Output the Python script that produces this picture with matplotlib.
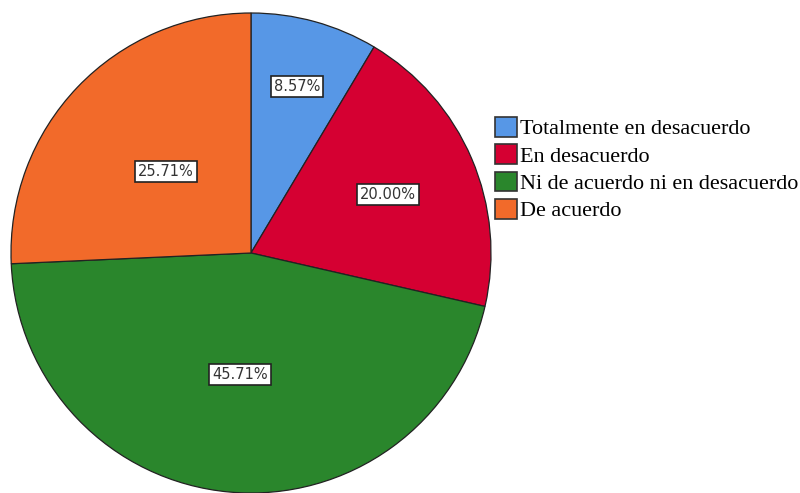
import numpy as np
import matplotlib
matplotlib.use("Agg")
import matplotlib.pyplot as plt

categorias = ["Totalmente en desacuerdo", "En desacuerdo",
  "Ni de acuerdo ni en desacuerdo", "De acuerdo"]
porcentajes = [8.57, 20.00, 45.71, 25.71]
colores = ["#5797E6", "#D50032", "#2A862C", "#F26A2A"]
# how far out each label box sits (fraction of radius)
dist_etiquetas = [0.72, 0.62, 0.51, 0.49]

fig = plt.figure(figsize=(8, 4.93), dpi=100)
# pie axes: center ~ (251, 253) px, radius ~240 px
ax = fig.add_axes([11/800, 0.0, 480/800, 480/493])

wedges, texts, autotexts = ax.pie(porcentajes, colors=colores, startangle=90,
  counterclock=False, autopct="%1.2f%%", radius=1.0,
  wedgeprops=dict(edgecolor="#222222", linewidth=0.9))

for w, t, d in zip(wedges, autotexts, dist_etiquetas):
  ang = np.deg2rad((w.theta1 + w.theta2) / 2)
  t.set_position((d*np.cos(ang), d*np.sin(ang)))
  t.set_fontsize(10.5)
  t.set_color("#333333")
  t.set_family("DejaVu Sans")
  t.set_bbox(dict(boxstyle="square,pad=0.2", facecolor="white",
    edgecolor="#222222", linewidth=1.2))

ax.set_xlim(-1.0, 1.0)
ax.set_ylim(-1.0, 1.0)
ax.set_aspect("equal")
ax.axis("off")

leg = fig.legend(wedges, categorias, loc="upper left",
  bbox_to_anchor=(495/800, 1 - 117/493), frameon=False,
  prop=dict(family="Liberation Serif", size=15.9),
  handlelength=1.0, handleheight=1.0, handletextpad=0.12,
  labelspacing=0.22, borderaxespad=0.0, borderpad=0.0)
for h in leg.legend_handles:
  h.set_edgecolor("#333333")
  h.set_linewidth(1.2)

fig.savefig("out.png", dpi=100)
